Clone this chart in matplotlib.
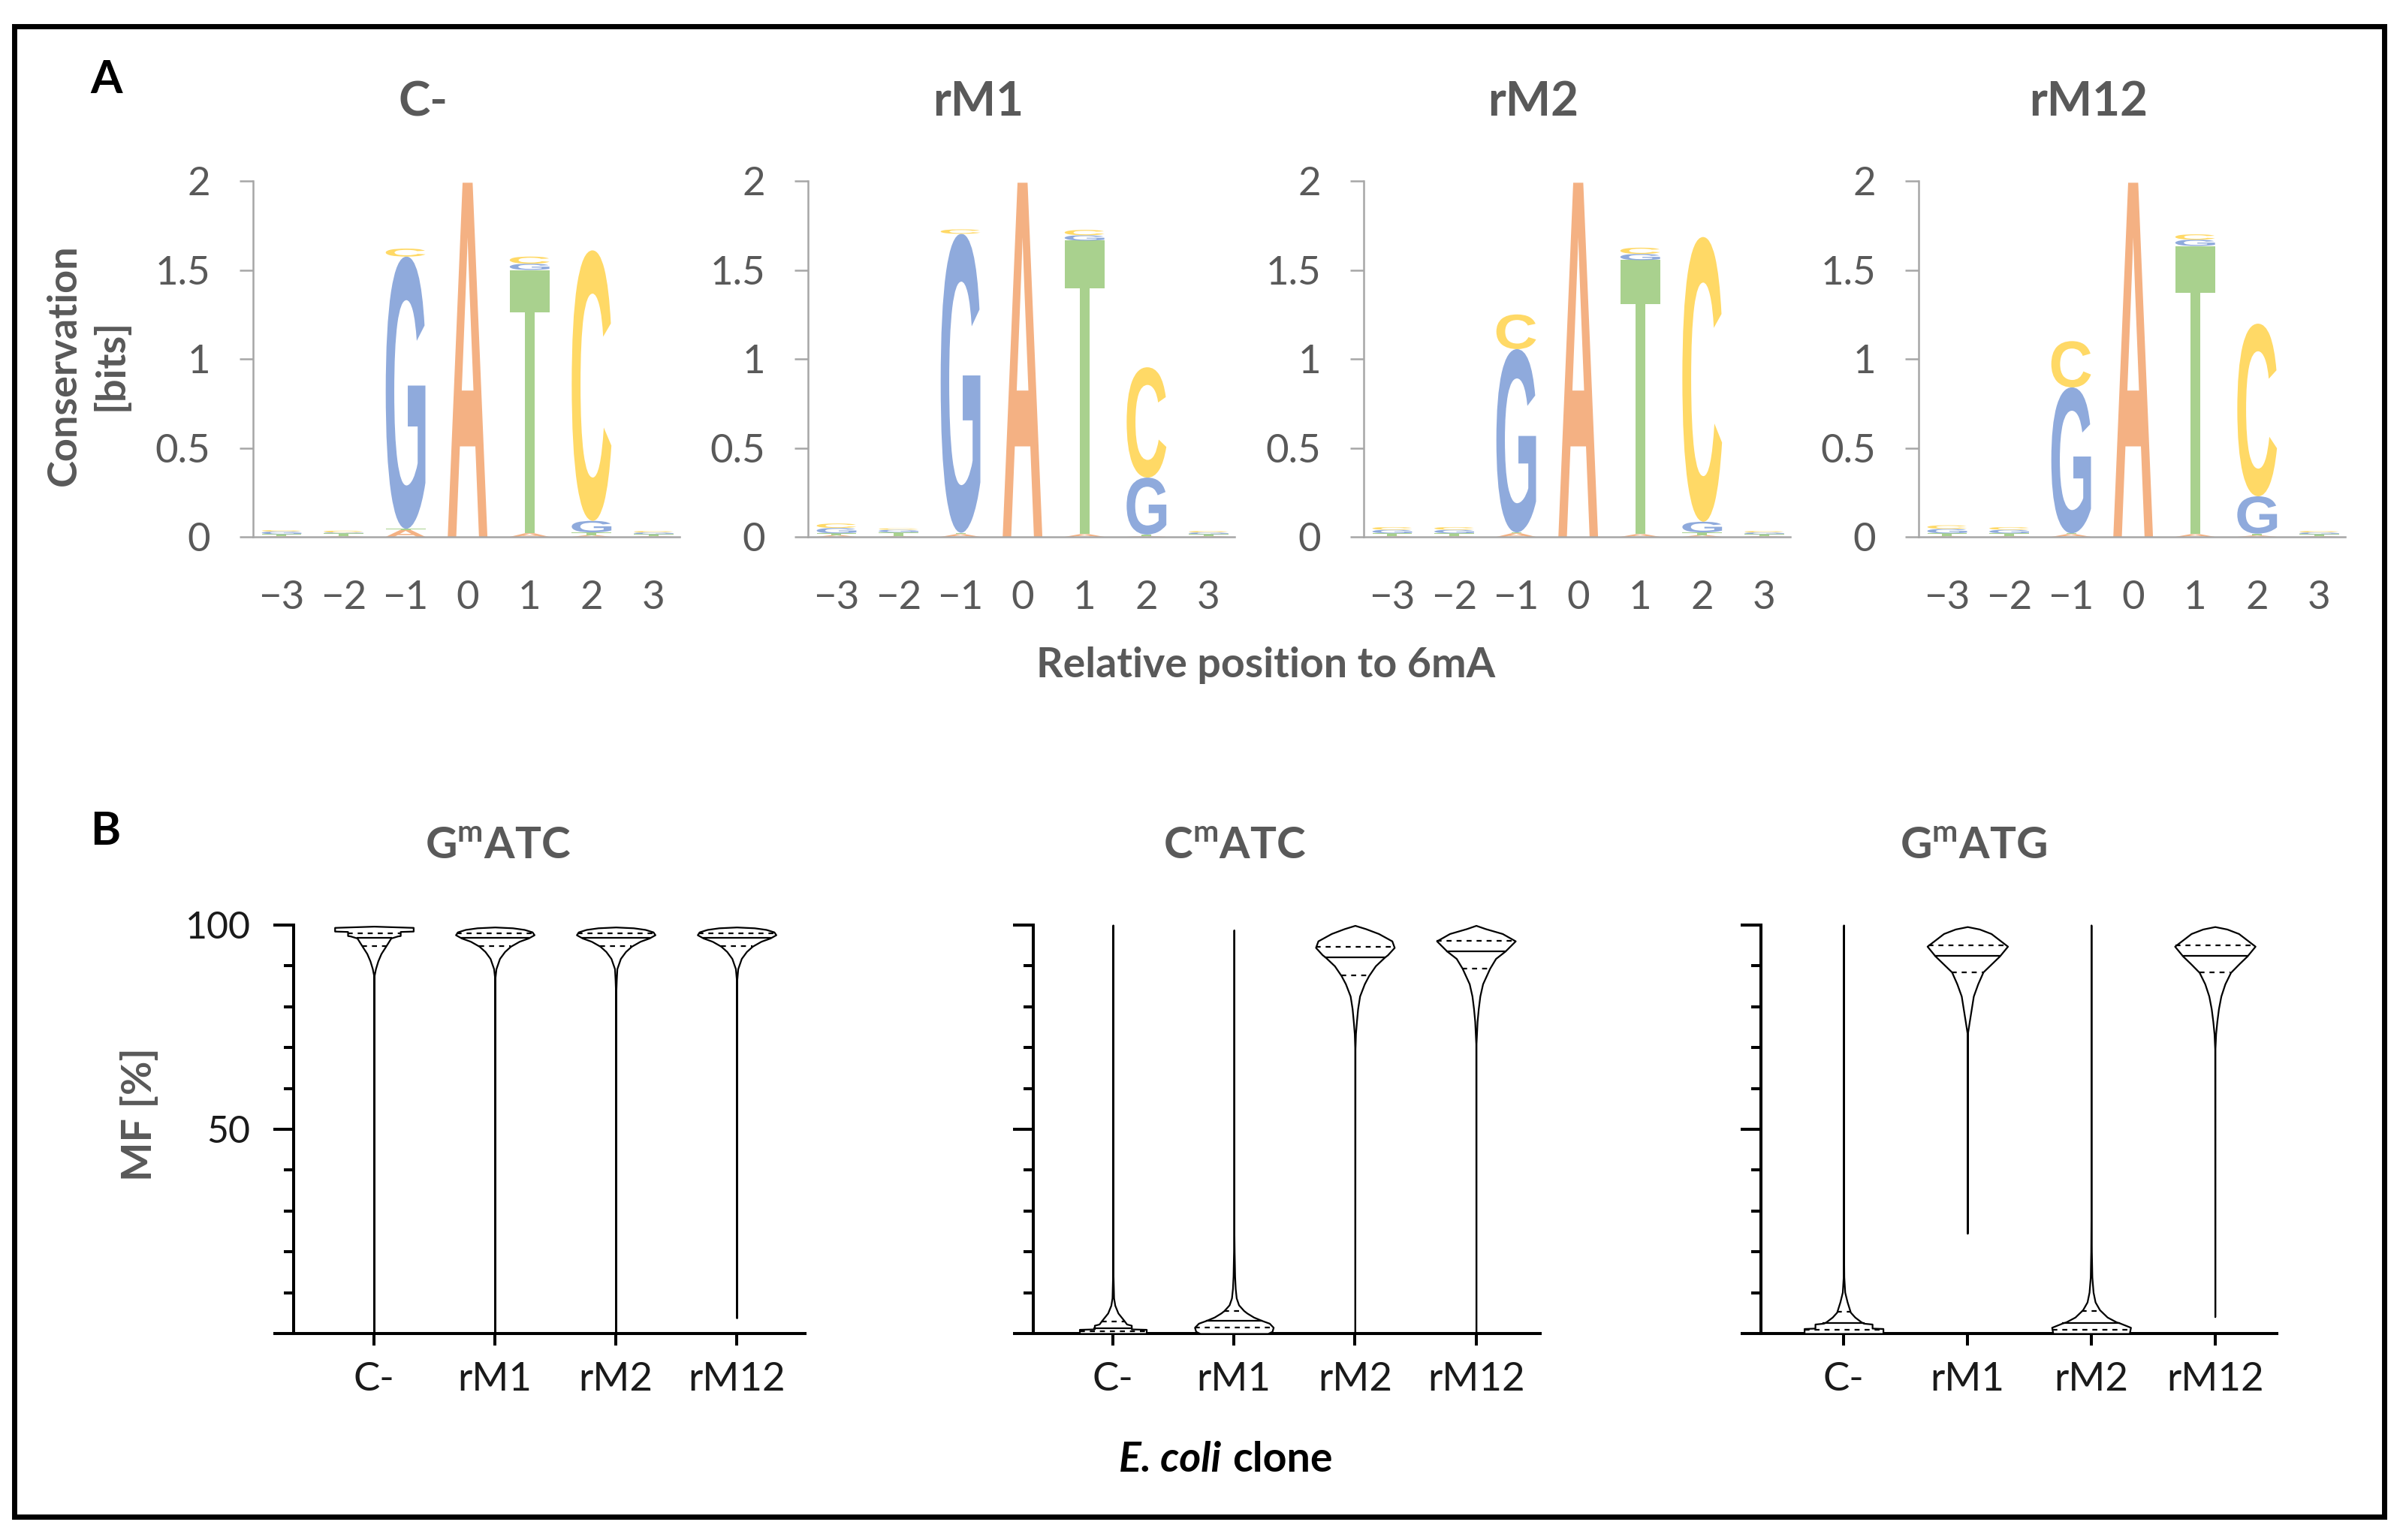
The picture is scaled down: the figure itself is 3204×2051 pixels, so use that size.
import numpy as np
import matplotlib
matplotlib.use('Agg')
import matplotlib.pyplot as plt
from matplotlib.textpath import TextPath
from matplotlib.patches import PathPatch, Rectangle
from matplotlib.font_manager import FontProperties
from matplotlib.transforms import Affine2D

plt.rcParams['font.family'] = ['Lato', 'DejaVu Sans']

# ---------------- data ----------------
logo_positions = [-3, -2, -1, 0, 1, 2, 3]
logo_ticklabels = ['\u22123', '\u22122', '\u22121', '0', '1', '2', '3']
stack_order = ['A', 'T', 'G', 'C']   # bottom -> top
logo_titles = ['C-', 'rM1', 'rM2', 'rM12']

logo_cminus = {
    'A': [0.005, 0.005, 0.04, 1.99, 0.02, 0.01, 0.005],
    'T': [0.01, 0.015, 0.005, 0.0, 1.48, 0.015, 0.01],
    'G': [0.015, 0.005, 1.53, 0.0, 0.035, 0.065, 0.01],
    'C': [0.008, 0.01, 0.045, 0.0, 0.04, 1.52, 0.008],
}
logo_rm1 = {
    'A': [0.01, 0.005, 0.015, 1.99, 0.015, 0.005, 0.005],
    'T': [0.01, 0.02, 0.008, 0.0, 1.65, 0.008, 0.01],
    'G': [0.03, 0.015, 1.68, 0.0, 0.03, 0.32, 0.01],
    'C': [0.025, 0.008, 0.025, 0.0, 0.03, 0.62, 0.008],
}
logo_rm2 = {
    'A': [0.005, 0.005, 0.02, 1.99, 0.015, 0.01, 0.005],
    'T': [0.015, 0.015, 0.005, 0.0, 1.54, 0.015, 0.01],
    'G': [0.02, 0.02, 1.03, 0.0, 0.035, 0.06, 0.01],
    'C': [0.015, 0.015, 0.195, 0.0, 0.035, 1.6, 0.008],
}
logo_rm12 = {
    'A': [0.005, 0.005, 0.015, 1.99, 0.015, 0.008, 0.005],
    'T': [0.015, 0.015, 0.005, 0.0, 1.62, 0.01, 0.01],
    'G': [0.025, 0.02, 0.82, 0.0, 0.035, 0.21, 0.01],
    'C': [0.02, 0.015, 0.26, 0.0, 0.03, 0.97, 0.008],
}

clones = ['C-', 'rM1', 'rM2', 'rM12']

# violin profiles: MF values and relative density, quartiles (Q1, median, Q3)
gatc_y = [
    [0, 87.5, 89.3, 91.2, 93.0, 94.8, 96.8, 97.3, 97.4, 98.4, 98.5, 99.4, 99.7],
    [0, 86.9, 89.3, 91.8, 93.5, 94.8, 96.0, 96.8, 97.6, 98.3, 98.9, 99.3, 99.5],
    [0, 83.2, 86.5, 89.3, 91.8, 93.5, 94.8, 96.0, 96.8, 97.6, 98.3, 98.9, 99.3, 99.5],
    [3.8, 86.3, 89.3, 91.8, 93.5, 94.8, 96.0, 96.8, 97.6, 98.3, 98.9, 99.3, 99.5],
]
gatc_w = [
    [0, 0.003, 0.04, 0.1, 0.18, 0.3, 0.43, 0.6, 0.67, 0.67, 1.0, 1.0, 0],
    [0, 0.003, 0.03, 0.12, 0.25, 0.4, 0.62, 0.85, 1.0, 0.95, 0.75, 0.45, 0],
    [0, 0.003, 0.015, 0.03, 0.12, 0.25, 0.4, 0.62, 0.85, 1.0, 0.95, 0.75, 0.45, 0],
    [0, 0.003, 0.03, 0.12, 0.25, 0.4, 0.62, 0.85, 1.0, 0.95, 0.75, 0.45, 0],
]
gatc_quart = [(94.8, 96.8, 98.0), (94.8, 96.8, 97.9), (94.8, 96.8, 97.9), (94.8, 96.8, 97.9)]

cmatc_y = [
    [0, 1.0, 1.1, 2.0, 2.3, 3.2, 5.0, 6.9, 8.7, 15, 100],
    [0, 0.5, 1.5, 2.5, 3.2, 4, 5, 5.6, 7, 8.7, 11, 14, 20, 25, 98.8],
    [0, 69.7, 73.4, 76.4, 79.5, 82.6, 85.6, 87.6, 90.0, 92.1, 92.7, 94.5, 96.1, 97.9, 99.1, 99.9],
    [0, 70.9, 76.4, 79.5, 82.6, 85.6, 89.4, 91.8, 93.6, 96.1, 97.9, 99.1, 99.9],
]
cmatc_w = [
    [0.85, 0.85, 0.47, 0.47, 0.35, 0.28, 0.13, 0.05, 0.02, 0.004, 0],
    [0.86, 0.97, 1.0, 0.9, 0.7, 0.5, 0.33, 0.25, 0.12, 0.06, 0.035, 0.02, 0.008, 0.002, 0],
    [0, 0.003, 0.015, 0.04, 0.07, 0.12, 0.24, 0.35, 0.52, 0.75, 0.83, 1.0, 0.94, 0.6, 0.27, 0],
    [0, 0.003, 0.03, 0.06, 0.1, 0.17, 0.35, 0.5, 0.74, 1.0, 0.67, 0.24, 0],
]
cmatc_quart = [(0.5, 1.3, 3.0), (1.5, 3.2, 5.6), (87.6, 92.1, 94.7), (89.4, 93.6, 96.1)]

gatg_y = [
    [0, 1.2, 1.3, 2.3, 2.5, 2.8, 4, 5.2, 7.7, 10.1, 13.8, 20.6, 100],
    [24.5, 73.4, 76.4, 79.5, 82.6, 85.6, 88.5, 90.5, 92.4, 94.8, 97.9, 99.0, 99.6],
    [0, 1.5, 2.6, 2.8, 4.0, 5.8, 7.7, 10.1, 13.8, 20, 29, 100],
    [4.1, 69.7, 73.4, 76.4, 79.5, 82.6, 85.6, 88.4, 90.5, 92.4, 94.8, 97.9, 99.0, 99.6],
]
gatg_w = [
    [0.98, 0.98, 0.71, 0.71, 0.5, 0.44, 0.28, 0.17, 0.09, 0.03, 0.008, 0.002, 0],
    [0, 0.003, 0.05, 0.1, 0.15, 0.26, 0.39, 0.6, 0.8, 1.0, 0.59, 0.3, 0],
    [0.95, 0.98, 0.7, 0.63, 0.4, 0.21, 0.1, 0.05, 0.02, 0.008, 0.002, 0],
    [0, 0.003, 0.02, 0.05, 0.09, 0.15, 0.25, 0.39, 0.6, 0.8, 1.0, 0.59, 0.3, 0],
]
gatg_quart = [(1.0, 2.5, 5.3), (88.5, 92.4, 95.0), (1.0, 2.6, 5.5), (88.4, 92.4, 95.0)]

# ---------------- layout helpers ----------------
W_PX, H_PX, DPI = 3205, 2051, 200
GRAY = '#595959'
base_colors = {'A': '#f4b183', 'T': '#a9d18e', 'G': '#8faadc', 'C': '#ffd966'}


def fbox(left, top, right, bottom):
    return [left / W_PX, 1 - bottom / H_PX, (right - left) / W_PX, (bottom - top) / H_PX]


def fpt(x, y):
    return x / W_PX, 1 - y / H_PX


fig = plt.figure(figsize=(W_PX / DPI, H_PX / DPI), dpi=DPI)
fig.patches.append(Rectangle(fpt(19, 2020), (3175 - 19) / W_PX, (2020 - 35) / H_PX,
                             transform=fig.transFigure, fill=False, ec='black', lw=2.5))

# ---------------- panel A: sequence logos ----------------
letter_font = FontProperties(family='Liberation Sans', weight='bold')
glyphs = {b: TextPath((0, 0), b, size=1, prop=letter_font) for b in stack_order}
LETTER_W = 0.64


def draw_letter(ax, base, x, y0, h):
    if h <= 0:
        return
    path = glyphs[base]
    bb = path.get_extents()
    tr = (Affine2D().translate(-bb.x0, -bb.y0)
          .scale(LETTER_W / bb.width, h / bb.height)
          .translate(x - LETTER_W / 2, y0))
    ax.add_patch(PathPatch(tr.transform_path(path), facecolor=base_colors[base],
                           edgecolor='none', clip_on=False))


logo_data = [logo_cminus, logo_rm1, logo_rm2, logo_rm12]
logo_left = [337, 1076, 1816, 2555]
logo_title_x = [564, 1303, 2042, 2781]

for k, heights in enumerate(logo_data):
    ax = fig.add_axes(fbox(logo_left[k], 241, logo_left[k] + 568, 715))
    for j, pos in enumerate(logo_positions):
        y0 = 0.0
        for b in stack_order:
            h = heights[b][j]
            draw_letter(ax, b, pos, y0, h)
            y0 += h
    ax.set_xlim(-3.46, 3.42)
    ax.set_ylim(0, 2)
    for s in ['top', 'right']:
        ax.spines[s].set_visible(False)
    for s in ['left', 'bottom']:
        ax.spines[s].set_color('#a6a6a6')
        ax.spines[s].set_linewidth(0.9)
    ax.set_yticks([0, 0.5, 1, 1.5, 2])
    ax.set_yticklabels(['0', '0.5', '1', '1.5', '2'])
    ax.set_xticks(logo_positions)
    ax.set_xticklabels(logo_ticklabels)
    ax.tick_params(axis='y', length=6.5, width=0.9, color='#a6a6a6', labelcolor=GRAY,
                   labelsize=19, pad=14)
    ax.tick_params(axis='x', length=0, labelcolor=GRAY, labelsize=19, pad=21)
    ax.patch.set_alpha(0)
    fig.text(*fpt(logo_title_x[k], 136), logo_titles[k], ha='center', va='center',
             fontsize=23, fontweight='bold', color=GRAY)

fig.text(*fpt(142, 106), 'A', ha='center', va='center', fontsize=22, fontweight='bold', color='black')
fig.text(*fpt(117, 486), 'Conservation\n[bits]', rotation=90, ha='center', va='center',
         multialignment='center', linespacing=1.3, fontsize=19.5, fontweight='bold', color=GRAY)
fig.text(*fpt(1686, 886), 'Relative position to 6mA', ha='center', va='center',
         fontsize=20, fontweight='bold', color=GRAY)

# ---------------- panel B: violins ----------------
HALF_W = 0.325


def draw_violin(ax, i, ys, ws, quart):
    ys = np.asarray(ys, dtype=float)
    ws = np.asarray(ws, dtype=float) * HALF_W
    ax.fill_betweenx(ys, i - ws, i + ws, facecolor='white', edgecolor='black',
                     linewidth=0.8, zorder=3, clip_on=False)
    q1, med, q3 = quart
    for q, ls in ((q1, (0, (3, 3))), (med, '-'), (q3, (0, (3, 3)))):
        w = np.interp(q, ys, ws)
        ax.plot([i - w, i + w], [q, q], color='black', lw=0.8, ls=ls, zorder=4, clip_on=False)


violin_panels = [
    (gatc_y, gatc_w, gatc_quart, 'G$^{\\mathregular{m}}$ATC', (391, 1072), (-0.665, 3.565), 663),
    (cmatc_y, cmatc_w, cmatc_quart, 'C$^{\\mathregular{m}}$ATC', (1376, 2051), (-0.658, 3.53), 1644),
    (gatg_y, gatg_w, gatg_quart, 'G$^{\\mathregular{m}}$ATG', (2345, 3032), (-0.668, 3.50), 2628),
]

for k, (ys_all, ws_all, q_all, title, (x0, x1), xl, tx) in enumerate(violin_panels):
    ax = fig.add_axes(fbox(x0, 1232, x1, 1776))
    for i in range(len(clones)):
        draw_violin(ax, i, ys_all[i], ws_all[i], q_all[i])
    ax.set_xlim(*xl)
    ax.set_ylim(0, 100)
    for s in ['top', 'right']:
        ax.spines[s].set_visible(False)
    for s in ['left', 'bottom']:
        ax.spines[s].set_linewidth(1.45)
    ax.set_yticks([0, 50, 100])
    if k == 0:
        ax.set_yticklabels(['', '50', '100'])
    else:
        ax.set_yticklabels(['', '', ''])
    ax.set_yticks(np.arange(10, 100, 10), minor=True)
    ax.set_xticks(range(len(clones)))
    ax.set_xticklabels(clones)
    ax.tick_params(axis='y', which='major', length=9.7, width=1.45, labelsize=18,
                   labelcolor='#1a1a1a', pad=11)
    ax.tick_params(axis='y', which='minor', length=4.7, width=1.45)
    ax.tick_params(axis='x', length=5.8, width=1.45, labelsize=19, labelcolor='#1a1a1a', pad=8)
    ax.patch.set_alpha(0)
    fig.text(*fpt(tx, 1127), title, ha='center', va='center', fontsize=21,
             fontweight='bold', color=GRAY)

fig.text(*fpt(140, 1107), 'B', ha='center', va='center', fontsize=22, fontweight='bold', color='black')
fig.text(*fpt(186, 1484), 'MF [%]', rotation=90, ha='center', va='center',
         fontsize=20, fontweight='bold', color=GRAY)
fig.text(*fpt(1626, 1944), 'E. coli', ha='right', va='center', fontsize=20,
         fontweight='bold', fontstyle='italic', color='black')
fig.text(*fpt(1641, 1944), 'clone', ha='left', va='center', fontsize=20,
         fontweight='bold', color='black')

fig.savefig('out.png', dpi=DPI)
